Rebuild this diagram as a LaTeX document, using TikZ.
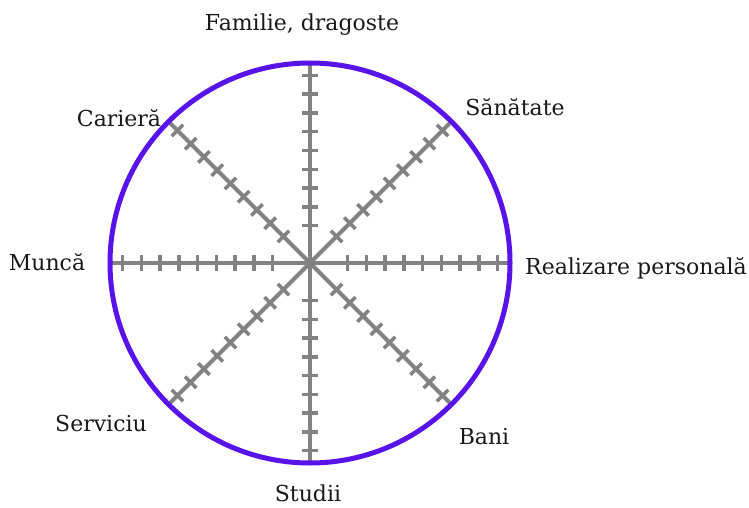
\documentclass[tikz,border=0pt]{standalone}
\usepackage{fontspec}
\setmainfont{DejaVu Serif}
\usetikzlibrary{calc}
\definecolor{rim}{RGB}{88,20,232}
\definecolor{spokegray}{RGB}{130,130,130}
\begin{document}
\begin{tikzpicture}[x=1pt,y=1pt,
  rimline/.style={draw=rim,line width=5pt},
  spoke/.style={draw=spokegray,line width=4pt},
  tick/.style={draw=spokegray,line width=3.5pt},
  lab/.style={font=\fontsize{22}{26}\selectfont,text=black!90,inner sep=0pt}]
\useasboundingbox (0,0) rectangle (749,507);
\fill[white] (0,0) rectangle (749,507);
\coordinate (c) at (310,244);
\foreach \a in {0,45,...,315}{
  \draw[spoke] (c) -- ++(\a:199);
  \foreach \n in {2,...,10}{
    \draw[tick] ($(c)+(\a:18.75*\n)+(\a+90:8)$) -- ($(c)+(\a:18.75*\n)+(\a-90:8)$);
  }
}
\draw[rimline] (c) circle (200);
\node[lab] (fam) at (302,482) {Familie, dragoste};
\node[lab] (car) at (119,389) {Carieră};
\node[lab] (san) at (515,400) {Sănătate};
\node[lab] (mun) at (47,245) {Muncă};
\node[lab] (rea) at (636,239) {Realizare personală};
\node[lab] (ser) at (101,84) {Serviciu};
\node[lab] (ban) at (484,70) {Bani};
\node[lab] (stu) at (308,14) {Studii};
\end{tikzpicture}
\end{document}
